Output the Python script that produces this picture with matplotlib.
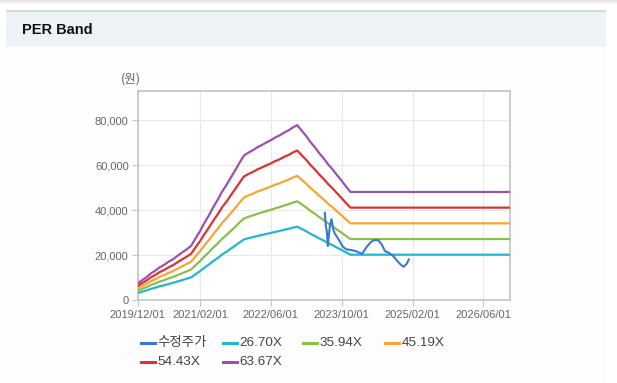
import matplotlib
matplotlib.use("Agg")
import matplotlib.pyplot as plt
import matplotlib.dates as mdates
from matplotlib.patches import Rectangle
from matplotlib.lines import Line2D
from matplotlib.ticker import FuncFormatter, FixedLocator
import pandas as pd

# ---------------- data ----------------
title = "PER Band"
unit_label = "(원)"
series_names = ["수정주가", "26.70X", "35.94X", "45.19X", "54.43X", "63.67X"]
multiples = [26.70, 35.94, 45.19, 54.43, 63.67]

# EPS (won), monthly from 2019-12 to 2023-12, then flat to 2026-12
eps_dates = list(pd.date_range("2019-12-01", "2023-12-01", freq="MS")) + [pd.Timestamp("2026-12-01")]
eps_values = [116, 139, 161, 186, 206, 229, 246, 268, 286, 310, 332, 354, 377,
              430, 481, 535, 588, 645, 698, 755, 803, 857, 907, 962, 1011,
              1031, 1048, 1067, 1083, 1100, 1116, 1135, 1150, 1170, 1185, 1206, 1222,
              1183, 1145, 1104, 1067, 1026, 989, 948, 912, 871, 834, 793, 755,
              755]

price_dates = pd.to_datetime([
    "2023-06-08", "2023-06-15", "2023-06-22", "2023-06-29", "2023-07-06", "2023-07-14",
    "2023-07-24", "2023-08-03", "2023-08-15", "2023-09-01", "2023-09-15", "2023-10-10",
    "2023-11-05", "2023-12-01", "2024-01-05", "2024-02-01", "2024-02-20", "2024-03-20",
    "2024-04-20", "2024-05-10", "2024-06-10", "2024-07-05", "2024-07-25", "2024-08-20",
    "2024-09-20", "2024-10-20", "2024-11-15", "2024-12-01", "2024-12-20", "2025-01-05"])
price_values = [38800, 33000, 30500, 24000, 29000, 33500,
                36000, 32000, 29600, 28000, 26500, 23700,
                22500, 22300, 21800, 21000, 20600, 23500,
                25800, 26600, 26600, 24500, 21800, 21000,
                19600, 17200, 15500, 14800, 16000, 18000]

x_ticks = ["2019/12/01", "2021/02/01", "2022/06/01", "2023/10/01", "2025/02/01", "2026/06/01"]
x_range = ["2019-12-01", "2026-12-01"]
y_ticks = [0, 20000, 40000, 60000, 80000]
y_max = 93000

colors = ["#3a78d4", "#1fb9cf", "#8cbf48", "#f7a634", "#dc3232", "#9b52ae"]

# ---------------- figure ----------------
W, H = 617, 383
fig = plt.figure(figsize=(W / 100, H / 100), dpi=100)
fig.patch.set_facecolor("white")


def rect(x0, y0, x1, y1, color, z=0):
    fig.add_artist(Rectangle((x0 / W, 1 - y1 / H), (x1 - x0) / W, (y1 - y0) / H,
                             transform=fig.transFigure, facecolor=color,
                             edgecolor="none", zorder=z))


# top shadow
rect(0, 0, W, 1.5, "#e6e6e6")
rect(0, 1.5, W, 3, "#efefef")
rect(0, 3, W, 5, "#f8f8f8")
# panel
rect(6, 46.7, 606, H, "#fdfdfd")
# header band
rect(6, 11, 606, 46.7, "#eef2f7")
rect(6, 10.5, 606, 11.8, "#d6dae0", z=1)
fig.text(21.5 / W, 1 - 30.5 / H, title, fontsize=10.5, fontweight="bold",
         family=["Liberation Sans", "DejaVu Sans"], color="#111111",
         ha="left", va="center")

# axes
ax = fig.add_axes([137.7 / W, 1 - 300 / H, (510 - 137.7) / W, (300 - 91) / H])
ax.set_facecolor("white")

for i, m in enumerate(multiples):
    vals = [e * m for e in eps_values]
    ax.plot(eps_dates, vals, color=colors[i + 1], lw=1.6, solid_joinstyle="round", zorder=3)
ax.plot(price_dates, price_values, color=colors[0], lw=1.5, zorder=4)

ax.set_xlim(pd.Timestamp(x_range[0]), pd.Timestamp(x_range[1]))
ax.set_ylim(0, y_max)
ax.xaxis.set_major_locator(FixedLocator([mdates.date2num(pd.Timestamp(t.replace("/", "-"))) for t in x_ticks]))
ax.xaxis.set_major_formatter(mdates.DateFormatter("%Y/%m/%d"))
ax.yaxis.set_major_locator(FixedLocator(y_ticks))
ax.yaxis.set_major_formatter(FuncFormatter(lambda v, p: f"{int(v):,}"))

ax.grid(True, color="#e9e9e9", lw=0.8, zorder=0)
ax.set_axisbelow(True)
for s in ax.spines.values():
    s.set_color("#c4c4c4")
    s.set_linewidth(1.2)
ax.tick_params(axis="both", direction="out", length=4, width=0.8, color="#c4c4c4",
               labelcolor="#666666", labelsize=8)
ax.tick_params(axis="y", pad=2.5)
ax.tick_params(axis="x", pad=3)
for lab in ax.get_xticklabels() + ax.get_yticklabels():
    lab.set_family(["Liberation Sans", "DejaVu Sans"])

fig.text(131 / W, 1 - 79 / H, unit_label, fontsize=9, color="#666666",
         family=["Noto Sans CJK KR", "DejaVu Sans"], ha="center", va="center")

# legend (manual placement)
legend_pos = [(141, 343.3), (223, 343.3), (303, 343.3), (385, 343.3),
              (141, 362.3), (223, 362.3)]
for (lx, ly), name, c in zip(legend_pos, series_names, colors):
    fig.add_artist(Line2D([lx / W, (lx + 14) / W], [1 - ly / H, 1 - ly / H],
                          transform=fig.transFigure, color=c, lw=2.2))
    fig.text((lx + 16.5) / W, 1 - ly / H, name, fontsize=9.7, color="#444444",
             family=["Liberation Sans", "Noto Sans CJK KR"], ha="left", va="center")

fig.savefig("out.png", dpi=100, facecolor=fig.get_facecolor())
